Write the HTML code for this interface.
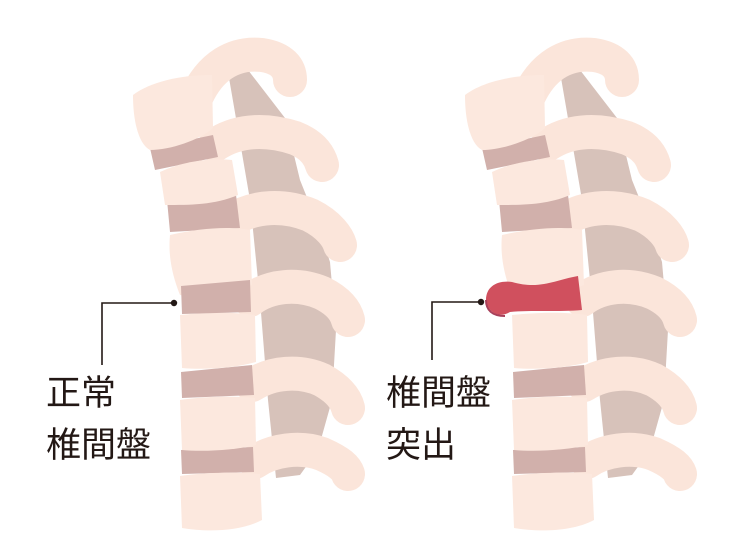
<!DOCTYPE html>
<html><head><meta charset="utf-8"><style>
html,body{margin:0;padding:0;background:#fff;}
svg{display:block}
text{font-family:"Liberation Sans","Noto Sans CJK JP",sans-serif;font-size:35px;fill:#231815;}
</style></head><body>
<svg width="754" height="559" viewBox="0 0 754 559" xmlns="http://www.w3.org/2000/svg">
<defs>
<g id="spine">
  <path d="M228,72 L248,70 L285,118 L300,180 L318,225 L330,262 L336,330 L332,400 L318,450 L300,475 L276,478 L268,400 L260,300 L250,200 L238,130 Z" fill="#d7c2ba"/>
  <g fill="none" stroke="#fbe5da" stroke-linecap="round" stroke-width="34">
    <path d="M195,100 C210,65 235,52 262,55 C282,58 290,68 290,80"/>
    <path d="M215,145 C240,128 270,130 295,138 C315,146 320,158 322,165"/>
    <path d="M232,220 C255,205 285,205 310,215 C330,225 338,238 340,245"/>
    <path d="M250,300 C270,285 298,283 322,293 C340,302 346,312 348,320"/>
    <path d="M252,385 C272,372 300,370 322,380 C340,390 346,400 348,408"/>
    <path d="M255,462 C272,450 300,446 322,454 C340,462 346,468 348,474"/>
  </g>
  <g fill="#d1b0ab">
    <path d="M150,148 L213,135 L218,157 L155,170 Z"/>
    <path d="M167,200 L236,195 L240,228 L170,232 Z"/>
    <path d="M181,372 L252,365 L254,395 L182,398 Z"/>
    <path d="M181,450 L253,447 L254,472 L182,474 Z"/>
  </g>
  <g fill="#fce8de">
    <path d="M133,95 C150,82 180,75 212,75 L213,128 C200,140 170,150 150,150 C140,145 133,125 133,95 Z"/>
    <path d="M160,172 C185,160 215,158 232,160 L238,195 C215,205 190,205 165,205 Z"/>
    <path d="M170,235 C200,228 230,226 250,230 L252,285 C230,295 200,298 180,295 C172,275 168,255 170,235 Z"/>
    <path d="M180,315 C210,312 235,312 255,315 L256,362 C235,368 205,370 182,368 Z"/>
    <path d="M180,400 C210,396 235,396 255,398 L256,445 C235,450 205,452 182,450 Z"/>
    <path d="M180,476 C210,472 240,472 260,474 L262,520 C240,532 205,532 182,528 Z"/>
  </g>
</g>
</defs>
<use href="#spine"/>
<path d="M181,286 L250,280 L251,312 L182,314 Z" fill="#d1b0ab"/>
<use href="#spine" transform="translate(332,0)"/>
<path d="M512,282 C540,290 555,280 578,276 L582,310 C560,312 530,310 510,312 C500,318 488,314 486,300 C486,286 498,280 512,282 Z" fill="#d0505e"/>
<path d="M486,300 C486,310 492,316 505,316" fill="none" stroke="#a8405a" stroke-width="2"/>
<g stroke="#231815" stroke-width="1.6" fill="none">
  <path d="M102,365 L102,303 L174,303"/>
  <path d="M432,360 L432,302 L481,302"/>
</g>
<circle cx="174" cy="303" r="3.2" fill="#231815"/>
<circle cx="481" cy="302" r="3.2" fill="#231815"/>
<text x="46" y="405">正常</text>
<text x="46" y="457">椎間盤</text>
<text x="386" y="405">椎間盤</text>
<text x="386" y="457">突出</text>
</svg>
</body></html>
